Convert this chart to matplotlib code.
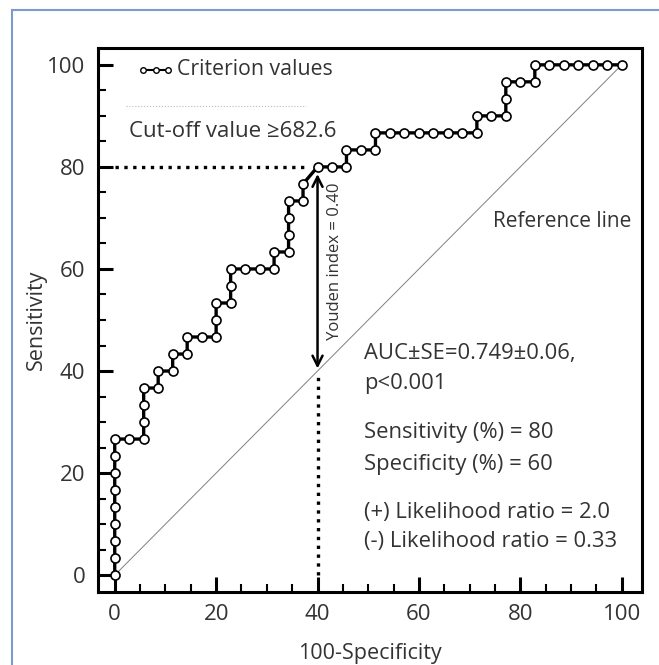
import matplotlib
matplotlib.use("Agg")
import matplotlib.pyplot as plt
from matplotlib.lines import Line2D
from matplotlib.ticker import MultipleLocator

plt.rcParams['font.family'] = ['Open Sans', 'DejaVu Sans']

# ROC points (100-Specificity, Sensitivity)
fpr = [0, 0, 0, 0, 0, 0, 0, 0, 0,
       2.86, 5.71, 5.71, 5.71, 5.71,
       8.57, 8.57, 11.43, 11.43, 14.29, 14.29,
       17.14, 20, 20, 20,
       22.86, 22.86, 22.86, 25.71, 28.57, 31.43, 31.43,
       34.29, 34.29, 34.29, 34.29, 37.14, 37.14,
       40, 42.86, 45.71, 45.71, 48.57, 51.43, 51.43,
       54.29, 57.14, 60, 62.86, 65.71, 68.57, 71.43, 71.43,
       74.29, 77.14, 77.14, 77.14, 80, 82.86, 82.86,
       85.71, 88.57, 91.43, 94.29, 97.14, 100]
sens = [0, 3.33, 6.67, 10, 13.33, 16.67, 20, 23.33, 26.67,
        26.67, 26.67, 30, 33.33, 36.67,
        36.67, 40, 40, 43.33, 43.33, 46.67,
        46.67, 46.67, 50, 53.33,
        53.33, 56.67, 60, 60, 60, 60, 63.33,
        63.33, 66.67, 70, 73.33, 73.33, 76.67,
        80, 80, 80, 83.33, 83.33, 83.33, 86.67,
        86.67, 86.67, 86.67, 86.67, 86.67, 86.67, 86.67, 90,
        90, 90, 93.33, 96.67, 96.67, 96.67, 100,
        100, 100, 100, 100, 100, 100]

cut_fpr = 40
cut_sens = 80
ticks = [0, 20, 40, 60, 80, 100]

stats_lines = ["AUC±SE=0.749±0.06,", "p<0.001",
               "Sensitivity (%) = 80", "Specificity (%) = 60",
               "(+) Likelihood ratio = 2.0", "(-) Likelihood ratio = 0.33"]
stats_y = [43.5, 37.6, 27.9, 21.7, 12.3, 6.5]

fig = plt.figure(figsize=(6.59, 6.65), dpi=100)
ax = fig.add_axes([98/659, 73/665, 544/659, 544/665])

txt = '#333333'

# reference line
ax.plot([0, 100], [0, 100], color='#808080', lw=0.7, zorder=1)

# cut-off guides
ax.plot([0, 38.3], [cut_sens, cut_sens], color='black', lw=2.4, ls=':', zorder=2)
ax.plot([cut_fpr, cut_fpr], [0, 39], color='black', lw=2.4, ls=':', zorder=2)
ax.annotate('', xy=(cut_fpr, 78.6), xytext=(cut_fpr, 40.5),
            arrowprops=dict(arrowstyle='<->', lw=1.8, color='black',
                            mutation_scale=18, shrinkA=0, shrinkB=0), zorder=3)

# ROC curve
ax.plot(fpr, sens, color='black', lw=2.4, marker='o', ms=6.5,
        mfc='white', mec='black', mew=1.2, zorder=4)

# legend drawn by hand
ax.plot([5.3, 10.8], [99, 99], color='black', lw=1.5, zorder=4)
ax.plot([5.6, 8.05, 10.5], [99, 99, 99], ls='none', marker='o', ms=4,
        mfc='white', mec='black', mew=1, zorder=5)
ax.text(12.2, 99, 'Criterion values', fontsize=15.3, color=txt, va='center', ha='left')
ax.plot([2.3, 37.8], [92, 92], color='#bbbbbb', lw=0.8, ls=':')
ax.text(2.8, 86.9, 'Cut-off value ≥682.6', fontsize=16, color=txt, va='center', ha='left')

ax.text(43.4, 61.5, 'Youden index = 0.40', rotation=90, fontsize=12, color=txt,
        va='center', ha='center')
ax.text(102, 69.3, 'Reference line', fontsize=15, color=txt, va='center', ha='right')

for s, y in zip(stats_lines, stats_y):
    ax.text(49.2, y, s, fontsize=15.8, color=txt, va='center', ha='left')

ax.set_xlim(-3.3, 104)
ax.set_ylim(-3.3, 103.3)
ax.set_xticks(ticks)
ax.set_yticks(ticks)
ax.xaxis.set_minor_locator(MultipleLocator(5))
ax.yaxis.set_minor_locator(MultipleLocator(5))
ax.tick_params(which='major', direction='in', length=11, width=2.2,
               labelsize=16, labelcolor=txt, pad=9)
ax.tick_params(which='minor', direction='in', length=6, width=1.5)
for sp in ax.spines.values():
    sp.set_linewidth(2.2)

ax.set_xlabel('100-Specificity', fontsize=15.5, color=txt)
ax.set_ylabel('Sensitivity', fontsize=15.5, color=txt)
ax.xaxis.set_label_coords(0.5, -0.093)
ax.yaxis.set_label_coords(-0.094, 0.5)

# thin blue page border
bc = '#7b9bcf'
fig.add_artist(Line2D([12/659, 12/659], [0, 1 - 10/665], transform=fig.transFigure, color=bc, lw=1.5))
fig.add_artist(Line2D([12/659, 1], [1 - 10/665, 1 - 10/665], transform=fig.transFigure, color=bc, lw=1.5))

fig.savefig('out.png', dpi=100)
